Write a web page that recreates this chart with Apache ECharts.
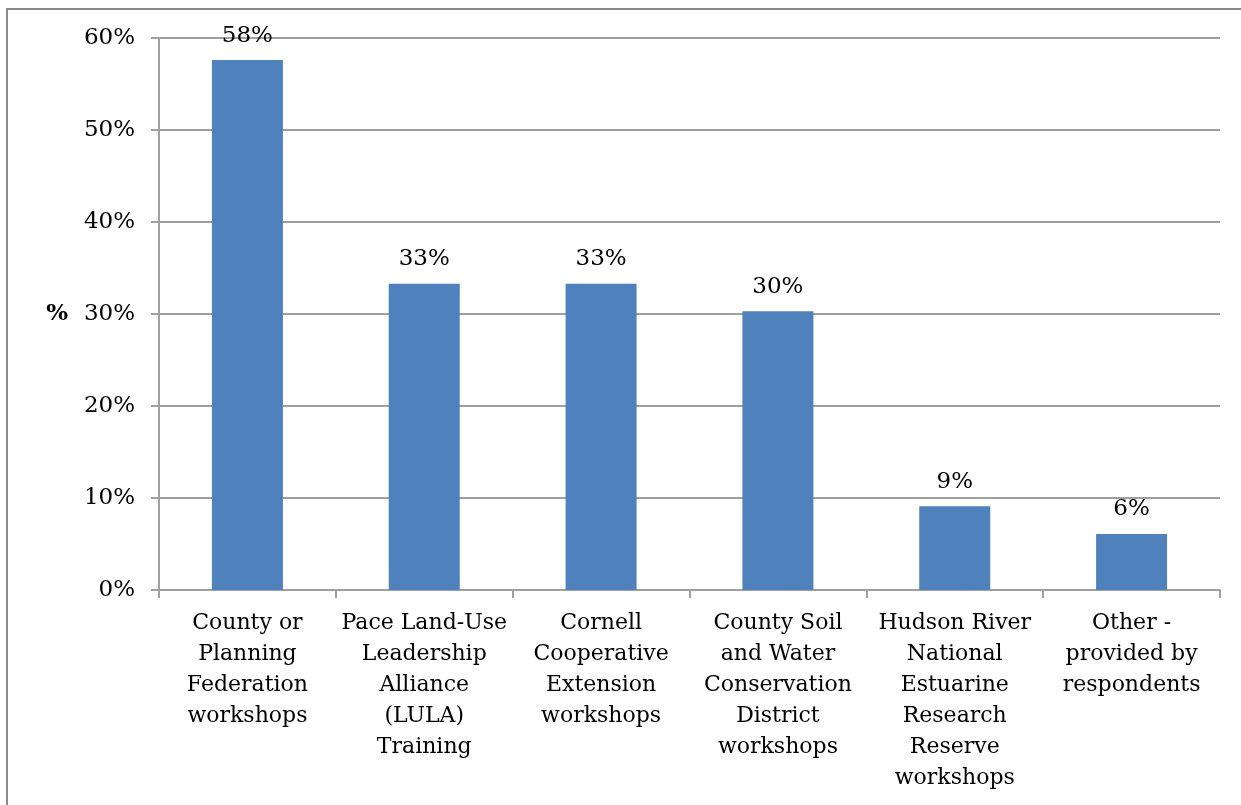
<!DOCTYPE html>
<html>
<head>
<meta charset="utf-8">
<script src="https://cdn.jsdelivr.net/npm/echarts@6/dist/echarts.min.js"></script>
<style>
  html, body { margin: 0; padding: 0; background: #fff; }
  #chart { width: 1241px; height: 805px; }
</style>
</head>
<body>
<div id="chart"></div>
<script>
// Training sources used by respondents (share of respondents, %)
const categories = [
  'County or\nPlanning\nFederation\nworkshops',
  'Pace Land-Use\nLeadership\nAlliance\n(LULA)\nTraining',
  'Cornell\nCooperative\nExtension\nworkshops',
  'County Soil\nand Water\nConservation\nDistrict\nworkshops',
  'Hudson River\nNational\nEstuarine\nResearch\nReserve\nworkshops',
  'Other -\nprovided by\nrespondents'
];
const shares = [57.6, 33.3, 33.3, 30.3, 9.1, 6.1];
const yTicks = [0, 10, 20, 30, 40, 50, 60];

const FONT = 'DejaVu Serif';
const GRID_COLOR = '#a0a0a0';

const chart = echarts.init(document.getElementById('chart'), null, { renderer: 'canvas' });
chart.setOption({
  backgroundColor: '#fff',
  animation: false,
  textStyle: { fontFamily: FONT },
  graphic: [{
    type: 'rect',
    shape: { x: 7, y: 9, width: 1300, height: 900 },
    style: { fill: 'none', stroke: '#8a8a8a', lineWidth: 2 },
    silent: true
  }],
  grid: { left: 159, right: 21, top: 38, bottom: 215, containLabel: false },
  xAxis: {
    type: 'category',
    data: categories,
    boundaryGap: true,
    axisLine: { lineStyle: { color: GRID_COLOR, width: 2 } },
    axisTick: { show: true, length: 8, lineStyle: { color: GRID_COLOR, width: 2 } },
    axisLabel: {
      interval: 0, margin: 18, color: '#000', fontFamily: FONT, fontSize: 22,
      lineHeight: 31
    }
  },
  yAxis: {
    type: 'value',
    min: yTicks[0],
    max: yTicks[yTicks.length - 1],
    interval: 10,
    name: '%',
    nameLocation: 'middle',
    nameRotate: 0,
    nameGap: 91,
    nameTextStyle: { color: '#000', fontFamily: FONT, fontSize: 23, fontWeight: 'bold' },
    axisLine: { show: true, lineStyle: { color: GRID_COLOR, width: 2 } },
    axisTick: { show: true, length: 8, lineStyle: { color: GRID_COLOR, width: 2 } },
    axisLabel: {
      margin: 24, color: '#000', fontFamily: FONT, fontSize: 23,
      formatter: v => v + '%'
    },
    splitLine: { show: true, lineStyle: { color: GRID_COLOR, width: 2 } }
  },
  series: [{
    type: 'bar',
    data: shares,
    barWidth: 71,
    itemStyle: { color: '#4f81bd' },
    label: {
      show: true, position: 'top', distance: 13,
      color: '#000', fontFamily: FONT, fontSize: 23,
      formatter: p => Math.round(p.value) + '%'
    }
  }]
});
</script>
</body>
</html>
